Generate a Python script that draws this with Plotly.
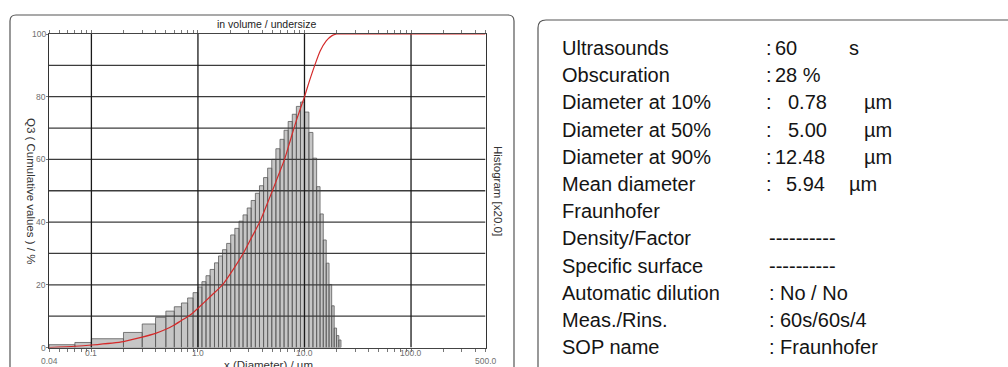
import plotly.graph_objects as go
import math

W, H = 1008, 367

# ---------------- data ----------------
# histogram class edges (µm)
bin_edges = [0.04, 0.07, 0.1, 0.2, 0.3, 0.4, 0.5, 0.6, 0.7, 0.8, 0.9,
             1.0, 1.09, 1.19, 1.30, 1.43, 1.56, 1.70, 1.86, 2.03, 2.22, 2.43,
             2.65, 2.90, 3.16, 3.46, 3.78, 4.13, 4.51, 4.93, 5.39, 5.89, 6.43,
             7.03, 7.68, 8.39, 9.17,
             10, 11, 12, 13, 14, 15, 16, 17, 18, 19, 20, 21, 22]
# histogram heights (x20.0 scale, read on the 0-100 axis)
bar_heights = [0.9, 1.6, 2.8, 4.8, 7.5, 9.6, 11.6, 13.0, 14.2, 15.8, 17.5,
               19.3, 21.0, 22.9, 24.9, 27.0, 29.2, 31.2, 33.2, 35.9, 38.0,
               40.3, 42.3, 44.5, 46.9, 49.2, 51.6, 54.2, 57.2, 60.0, 63.4,
               66.4, 69.3, 72.1, 74.4, 76.9, 78.3,
               75.1, 68.6, 60.4, 51.3, 42.6, 34.3, 26.9, 20.1, 13.3, 6.2, 3.8, 2.4]

# cumulative (undersize) curve
cum_x = [0.04, 0.07, 0.1, 0.2, 0.3, 0.4, 0.5, 0.6, 0.7, 0.8, 0.9, 1.0, 1.3,
         1.7, 2.2, 2.66, 3.2, 3.8, 4.4, 5.0, 5.7, 6.5, 7.5, 8.5, 10.0, 11.0,
         12.48, 14.0, 16.0, 18.0, 20.0, 22.0, 50.0, 100.0, 500.0]
cum_y = [0.0, 0.4, 0.8, 1.9, 3.3, 4.5, 5.8, 7.2, 8.6, 9.8, 11.1, 12.5, 16.2,
         20.0, 25.5, 30.0, 35.2, 40.0, 45.3, 50.0, 55.0, 60.0, 67.0, 73.0,
         80.0, 84.5, 90.0, 94.5, 97.8, 99.4, 100.0, 100.0, 100.0, 100.0, 100.0]

x_tick_vals = [0.1, 1.0, 10.0, 100.0]
x_tick_text = ["0.1", "1.0", "10.0", "100.0"]
x_end_vals = [0.04, 500.0]
x_end_text = ["0.04", "500.0"]
y_tick_vals = [0, 20, 40, 60, 80, 100]
y_grid_vals = [10, 20, 30, 40, 50, 60, 70, 80, 90]

table_labels = ["Ultrasounds", "Obscuration", "Diameter at 10%", "Diameter at 50%",
                "Diameter at 90%", "Mean diameter", "Fraunhofer", "Density/Factor",
                "Specific surface", "Automatic dilution", "Meas./Rins.", "SOP name"]
table_values = ["60", "28 %", "0.78", "5.00", "12.48", "5.94", "", "----------",
                "----------", "No / No", "60s/60s/4", "Fraunhofer"]
table_units = ["s", "", "µm", "µm", "µm", "µm", "", "", "", "", "", ""]

# ---------------- layout geometry (pixels) ----------------
PL, PR, PT, PB = 49, 485.5, 34, 347.5


def px(x):
    return x / W


def py(y):
    return 1 - y / H


def rrect(x0, y0, x1, y1, r):
    pts = [
        ("M", [(x0 + r, y0)]), ("L", [(x1 - r, y0)]), ("Q", [(x1, y0), (x1, y0 + r)]),
        ("L", [(x1, y1 - r)]), ("Q", [(x1, y1), (x1 - r, y1)]), ("L", [(x0 + r, y1)]),
        ("Q", [(x0, y1), (x0, y1 - r)]), ("L", [(x0, y0 + r)]), ("Q", [(x0, y0), (x0 + r, y0)]),
    ]
    s = ""
    for cmd, ps in pts:
        s += cmd + " " + " ".join(f"{px(a):.5f},{py(b):.5f}" for a, b in ps) + " "
    return s + "Z"


fig = go.Figure()

# histogram bars as closed polygons
bx, by = [], []
for i, h in enumerate(bar_heights):
    l, r = bin_edges[i], bin_edges[i + 1]
    bx += [l, l, r, r, l, None]
    by += [0, h, h, 0, 0, None]
fig.add_trace(go.Scatter(x=bx, y=by, mode="lines", fill="toself",
                         fillcolor="#c6c6c6", line=dict(color="#5c5c5c", width=0.8),
                         hoverinfo="skip", showlegend=False))

# grid lines on top of bars
gx, gy = [], []
for v in y_grid_vals:
    gx += [0.04, 500, None]
    gy += [v, v, None]
fig.add_trace(go.Scatter(x=gx, y=gy, mode="lines", line=dict(color="#3c3c3c", width=1.3),
                         hoverinfo="skip", showlegend=False))
vx, vy = [], []
for v in x_tick_vals:
    vx += [v, v, None]
    vy += [0, 100, None]
fig.add_trace(go.Scatter(x=vx, y=vy, mode="lines", line=dict(color="#1a1a1a", width=1.3),
                         hoverinfo="skip", showlegend=False))

# cumulative curve
fig.add_trace(go.Scatter(x=cum_x, y=cum_y, mode="lines",
                         line=dict(color="#d42a2a", width=1.2, shape="spline", smoothing=0.6),
                         hoverinfo="skip", showlegend=False))

minor = [m * 10 ** e for e in range(-2, 3) for m in range(1, 10)
         if 0.04 - 1e-9 <= m * 10 ** e <= 500 + 1e-9]

fig.update_layout(
    width=W, height=H, margin=dict(l=0, r=0, t=0, b=0),
    paper_bgcolor="white", plot_bgcolor="white", showlegend=False,
    font=dict(family="Liberation Sans, Arial, sans-serif", color="#222"),
    xaxis=dict(type="log", range=[math.log10(0.04), math.log10(500)],
               domain=[px(PL), px(PR)], showgrid=False, zeroline=False,
               showline=True, linecolor="#444", linewidth=1.2, mirror="ticks",
               tickvals=minor, ticks="outside", ticklen=3, tickcolor="#777",
               tickwidth=1, showticklabels=False),
    yaxis=dict(range=[0, 100], domain=[py(PB), py(PT)], showgrid=False,
               zeroline=False, showline=True, linecolor="#333", linewidth=1.3,
               mirror=True, tickvals=y_tick_vals, ticks="outside", ticklen=2,
               tickcolor="#777", showticklabels=False),
)

ann = []
tick_font = dict(size=8.5, color="#707070")
for v, t in zip(x_tick_vals, x_tick_text):
    ann.append(dict(x=math.log10(v), xref="x", y=py(352.5), yref="paper", text=t,
                    showarrow=False, xanchor="center", yanchor="middle", font=tick_font))
for v, t in zip(x_end_vals, x_end_text):
    ann.append(dict(x=math.log10(v), xref="x", y=py(360.5), yref="paper", text=t,
                    showarrow=False, xanchor="center", yanchor="middle", font=tick_font))
for v in y_tick_vals:
    ann.append(dict(x=px(47.5), xref="paper", y=v, yref="y", text=str(v),
                    showarrow=False, xanchor="right", yanchor="middle", font=tick_font))

ann.append(dict(x=px(266.5), y=py(24), xref="paper", yref="paper",
                text="in volume / undersize", showarrow=False,
                xanchor="center", yanchor="middle",
                font=dict(size=10.5, color="#222")))
ann.append(dict(x=px(31), y=py(191), xref="paper", yref="paper",
                text="Q3 ( Cumulative values ) / %", showarrow=False, textangle=90,
                xanchor="center", yanchor="middle",
                font=dict(size=11.5, color="#333")))
ann.append(dict(x=px(498), y=py(191), xref="paper", yref="paper",
                text="Histogram [x20.0]", showarrow=False, textangle=90,
                xanchor="center", yanchor="middle",
                font=dict(size=11.5, color="#333")))
ann.append(dict(x=px(268), y=py(357), xref="paper", yref="paper",
                text="x (Diameter) / µm", showarrow=False,
                xanchor="center", yanchor="top",
                font=dict(size=11.5, color="#333")))

# right-hand info table
row_y0, row_dy = 48, 27.2
colon_x = [764, 764, 764, 764, 764, 764, None, None, None, 767, 767, 767]
value_x = [773, 773, 786, 786, 773, 784, 0, 767, 767, 778, 778, 778]
unit_x = [847, 0, 862, 862, 862, 847, 0, 0, 0, 0, 0, 0]
tf = dict(size=20, color="#141414")
for i, lab in enumerate(table_labels):
    yy = py(row_y0 + i * row_dy)
    ann.append(dict(x=px(560), y=yy, xref="paper", yref="paper", text=lab,
                    showarrow=False, xanchor="left", yanchor="middle", font=tf))
    if colon_x[i] is not None:
        ann.append(dict(x=px(colon_x[i]), y=yy, xref="paper", yref="paper", text=":",
                        showarrow=False, xanchor="left", yanchor="middle", font=tf))
    if table_values[i]:
        ann.append(dict(x=px(value_x[i]), y=yy, xref="paper", yref="paper",
                        text=table_values[i], showarrow=False, xanchor="left",
                        yanchor="middle", font=tf))
    if table_units[i]:
        ann.append(dict(x=px(unit_x[i]), y=yy, xref="paper", yref="paper",
                        text=table_units[i], showarrow=False, xanchor="left",
                        yanchor="middle", font=tf))

fig.update_layout(annotations=ann)

fig.add_shape(type="path", xref="paper", yref="paper", path=rrect(10, 15, 514, 390, 6),
              line=dict(color="#555", width=1.2), layer="below")
fig.add_shape(type="path", xref="paper", yref="paper", path=rrect(538, 20, 1040, 395, 8),
              line=dict(color="#555", width=1.2), layer="below")

fig.write_html("out.html",
               config={"displayModeBar": False},
               post_script="document.body.style.margin='0px';"
                           "document.body.style.overflow='hidden';")
